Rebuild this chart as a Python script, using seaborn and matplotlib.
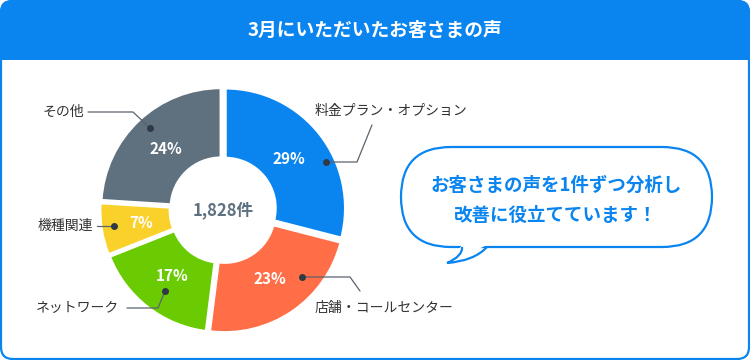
import seaborn as sns
import matplotlib.pyplot as plt
from matplotlib.patches import FancyBboxPatch, Rectangle, Polygon, PathPatch
from matplotlib.path import Path

# data
categories = ["料金プラン・オプション", "店舗・コールセンター", "ネットワーク", "機種関連", "その他"]
shares = [29, 23, 17, 7, 24]
colors = ["#0A85F0", "#FF6E47", "#6BCB02", "#FAD12A", "#5F707E"]
total_label = "1,828件"
title = "3月にいただいたお客さまの声"
bubble_lines = ["お客さまの声を1件ずつ分析し", "改善に役立てています！"]

# layout (pixel coords, y down)
BLUE = "#0A85F0"
center = (223, 210)
leaders = [
    [(326, 162), (357, 162), (372, 125)],
    [(302, 277), (350, 277), (360, 291)],
    [(165, 291), (158, 308), (127, 308)],
    [(114, 226), (97, 226)],
    [(150, 128), (133, 112), (88, 112)],
]
label_pos = [(315, 111, "left"), (315, 308, "left"), (119, 308, "right"),
             (93, 226, "right"), (84, 112, "right")]

sns.set_theme(style="white")
plt.rcParams["font.family"] = ["Noto Sans CJK JP", "DejaVu Sans"]

fig = plt.figure(figsize=(7.5, 3.6), dpi=100)
ax = fig.add_axes([0, 0, 1, 1])

# frame and header
ax.add_patch(FancyBboxPatch((1, 1), 748, 358, boxstyle="round,pad=0,rounding_size=12",
                            facecolor="white", edgecolor=BLUE, linewidth=1.6, zorder=0))
ax.add_patch(FancyBboxPatch((0, 0), 750, 40, boxstyle="round,pad=0,rounding_size=12",
                            facecolor=BLUE, edgecolor="none", zorder=1))
ax.add_patch(Rectangle((0, 20), 750, 40, facecolor=BLUE, edgecolor="none", zorder=1))
ax.text(375, 30, title, color="white", fontsize=13.5, fontweight="bold",
        ha="center", va="center", zorder=2)

# donut
wedges, _, pcts = ax.pie(
    shares, colors=colors, radius=120, center=center, startangle=-90,
    counterclock=True, explode=[3] * len(shares), frame=True,
    autopct=lambda p: f"{p:.0f}%", pctdistance=0.67,
    wedgeprops=dict(width=70, edgecolor="white", linewidth=2),
    textprops=dict(color="white", fontsize=11, fontweight="bold"),
)
for w in wedges:
    w.set_zorder(3)
for t in pcts:
    t.set_zorder(4)
ax.text(center[0], center[1], total_label, color="#5F707E", fontsize=12,
        fontweight="bold", ha="center", va="center", zorder=4)

# leader lines and labels
for pts, (lx, ly, ha), name in zip(leaders, label_pos, categories):
    xs, ys = zip(*pts)
    ax.plot(xs, ys, color="#5a636b", linewidth=0.9, zorder=5)
    ax.plot(xs[0], ys[0], "o", color="#2E3A45", markersize=4, zorder=6)
    ax.text(lx, ly, name, color="#333333", fontsize=10, ha=ha, va="center", zorder=5)

# speech bubble
ax.add_patch(FancyBboxPatch((401, 147), 311, 100, boxstyle="round,pad=0,rounding_size=50",
                            facecolor="white", edgecolor=BLUE, linewidth=1.6, zorder=3))
ax.add_patch(Polygon([(462, 245), (487, 245), (449, 263)], facecolor="white",
                     edgecolor="none", zorder=4))
tail = Path([(462, 247), (463, 256), (447, 263), (474, 261), (487, 247)],
            [Path.MOVETO, Path.CURVE3, Path.CURVE3, Path.CURVE3, Path.CURVE3])
ax.add_patch(PathPatch(tail, facecolor="none", edgecolor=BLUE, linewidth=1.6, zorder=5))
for i, line in enumerate(bubble_lines):
    ax.text(556, 185 + i * 30, line, color=BLUE, fontsize=13.3, fontweight="bold",
            ha="center", va="center", zorder=6)

ax.set_xlim(0, 750)
ax.set_ylim(360, 0)
ax.set_aspect("equal")
ax.axis("off")

fig.savefig("out.png", dpi=100)
